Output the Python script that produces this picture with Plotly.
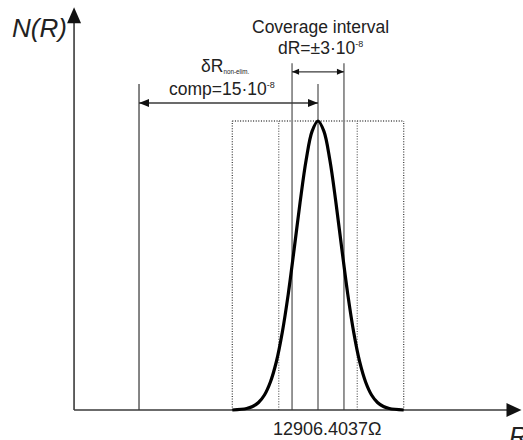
import plotly.graph_objects as go

# ---- schematic data (x: relative deviation units, not to scale; y: normalised density) ----
curve_x = [-7.2, -6.0, -5.5, -5.0, -4.5, -4.0, -3.5, -3.0, -2.5, -2.0, -1.5, -1.0, -0.5, 0.0,
           0.5, 1.0, 1.5, 2.0, 2.5, 3.0, 3.5, 4.0, 4.5, 5.0, 5.5, 6.0, 7.2]
curve_y = [0.0, 0.005, 0.012, 0.026, 0.052, 0.097, 0.167, 0.269, 0.401, 0.558, 0.720, 0.864, 0.964, 1.0,
           0.964, 0.864, 0.720, 0.558, 0.401, 0.269, 0.167, 0.097, 0.052, 0.026, 0.012, 0.005, 0.0]

center_x = 0.0
center_top = 1.128
noncomp_x = -15.04
noncomp_top = 1.128
noncomp_arrow_y = 1.062
coverage_x = [-2.18, 2.18]
coverage_top = 1.20
coverage_arrow_y = 1.170
rect_x = [-7.2, 7.2]
rect_top = 1.0
inner_dotted_x = [-3.3, 3.3]
axis_origin = (-20.5, 0.0)
axis_x_end = 17.1
axis_y_end = 1.394

label_value = "12906.4037Ω"

# ---- layout scale (pixels per data unit) ----
PX_X = 11.9
PX_Y = 289.0
W, H = 523, 440
X0_PX, Y0_PX = 318, 410  # pixel of data (0,0)
x_range = [-X0_PX / PX_X, (W - X0_PX) / PX_X]
y_range = [-(H - Y0_PX) / PX_Y, Y0_PX / PX_Y]

FONT = "Liberation Sans, Arial, sans-serif"
GRAY = "#8a8a8a"
DARK = "#3a3a3a"

fig = go.Figure()

def vline(x, y0, y1, color=GRAY, width=1.8, dash="solid"):
    fig.add_trace(go.Scatter(x=[x, x], y=[y0, y1], mode="lines",
                             line=dict(color=color, width=width, dash=dash),
                             hoverinfo="skip", showlegend=False, cliponaxis=False))

def hline(x0, x1, y, color=GRAY, width=1.8, dash="solid"):
    fig.add_trace(go.Scatter(x=[x0, x1], y=[y, y], mode="lines",
                             line=dict(color=color, width=width, dash=dash),
                             hoverinfo="skip", showlegend=False, cliponaxis=False))

shapes = []

def arrowhead(tx, ty, direction, length_px, half_px, color):
    if direction in ("left", "right"):
        s = -1 if direction == "right" else 1
        bx = tx + s * length_px / PX_X
        dy = half_px / PX_Y
        path = f"M {tx},{ty} L {bx},{ty + dy} L {bx},{ty - dy} Z"
    else:
        s = -1 if direction == "up" else 1
        by = ty + s * length_px / PX_Y
        dx = half_px / PX_X
        path = f"M {tx},{ty} L {tx + dx},{by} L {tx - dx},{by} Z"
    shapes.append(dict(type="path", path=path, xref="x", yref="y",
                       fillcolor=color, line=dict(width=0), layer="above"))

DOT = "1px,1.6px"
# dotted rectangle and inner dotted lines
for xx in rect_x:
    vline(xx, 0, rect_top, color="#444444", width=1.3, dash=DOT)
hline(rect_x[0], rect_x[1], rect_top, color="#444444", width=1.3, dash=DOT)
for xx in inner_dotted_x:
    vline(xx, 0, rect_top, color="#666666", width=1.3, dash=DOT)

# solid gray vertical lines
vline(noncomp_x, 0, noncomp_top, color="#777777")
vline(center_x, 0, center_top)
for xx in coverage_x:
    vline(xx, 0, coverage_top)

# axes
hline(axis_origin[0], axis_x_end - 1.0, 0, color=DARK, width=1.6)
vline(axis_origin[0], 0, axis_y_end - 0.04, color=DARK, width=1.6)
arrowhead(axis_x_end, 0, "right", 15, 7, "#111111")
arrowhead(axis_origin[0], axis_y_end, "up", 16, 7, "#111111")

# dimension arrows
hline(noncomp_x, center_x, noncomp_arrow_y, color=DARK, width=1.5)
arrowhead(noncomp_x, noncomp_arrow_y, "left", 10, 4, "#111111")
arrowhead(center_x, noncomp_arrow_y, "right", 10, 4, "#111111")
hline(coverage_x[0], coverage_x[1], coverage_arrow_y, color=DARK, width=1.3)
arrowhead(coverage_x[0], coverage_arrow_y, "left", 7, 3, "#111111")
arrowhead(coverage_x[1], coverage_arrow_y, "right", 7, 3, "#111111")

# distribution curve
fig.add_trace(go.Scatter(x=curve_x, y=curve_y, mode="lines", line=dict(color="#000000", width=3.2, shape="spline"),
                         hoverinfo="skip", showlegend=False, cliponaxis=False))

TXT = "#222222"
SUP = "<sup><span style='font-size:9px'>-8</span></sup>"
ann = [
    dict(x=0.17, y=1.325, text="Coverage interval", font=dict(size=17.5, color=TXT, family=FONT)),
    dict(x=0.17, y=1.253, text="dR=±3·10" + SUP, font=dict(size=17.5, color=TXT, family=FONT)),
    dict(x=-7.8, y=1.19, text="δR<span style='font-size:9px'><sub>non-elim.</sub></span>",
         font=dict(size=17.5, color=TXT, family=FONT)),
    dict(x=-8.07, y=1.111, text="comp=15·10" + SUP, font=dict(size=17.5, color=TXT, family=FONT)),
    dict(x=0.76, y=-0.066, text=label_value, font=dict(size=18, color=TXT, family=FONT)),
    dict(x=-23.4, y=1.322, text="<i>N(R)</i>", font=dict(size=26, color=TXT, family=FONT)),
    dict(x=15.9, y=-0.03, text="<i>R</i>", font=dict(size=26, color=TXT, family=FONT),
         xanchor="left", yanchor="top"),
]
for a in ann:
    a.setdefault("xanchor", "center")
    a.setdefault("yanchor", "middle")
    a.update(xref="x", yref="y", showarrow=False)

fig.update_layout(
    width=W, height=H,
    margin=dict(l=0, r=0, t=0, b=0),
    paper_bgcolor="white", plot_bgcolor="white",
    xaxis=dict(range=x_range, visible=False, fixedrange=True),
    yaxis=dict(range=y_range, visible=False, fixedrange=True),
    shapes=shapes, annotations=ann, showlegend=False,
)

fig.write_html("out.html")
